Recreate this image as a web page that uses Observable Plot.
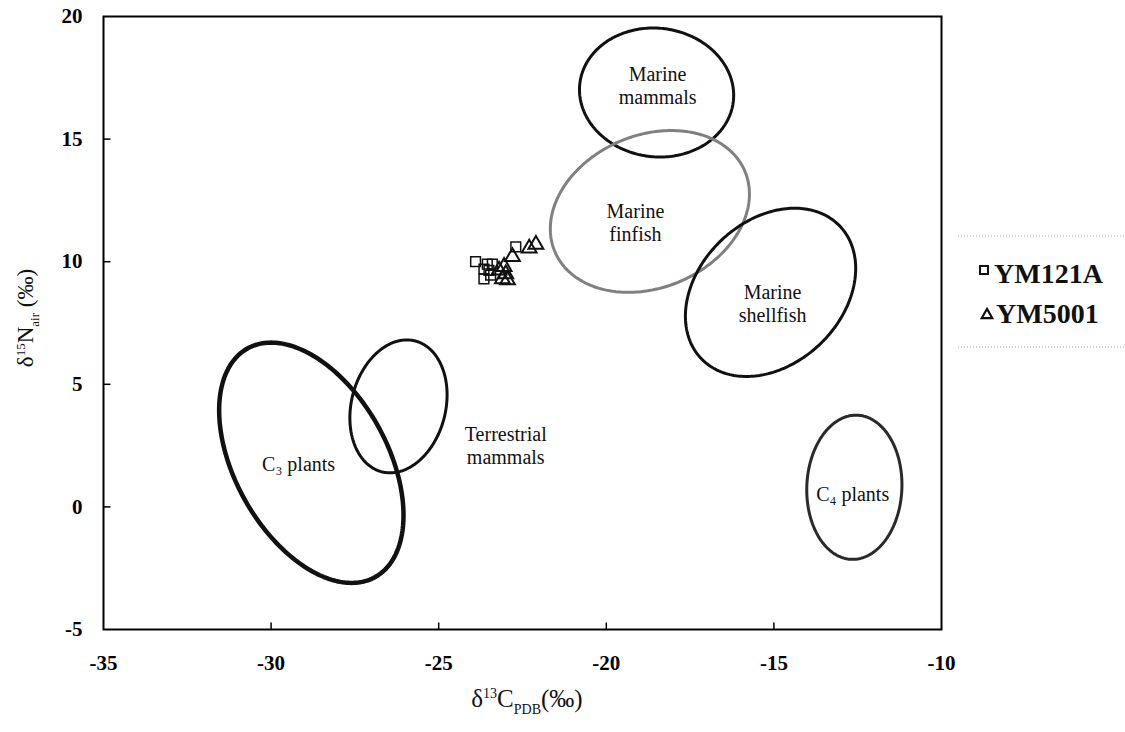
<!DOCTYPE html>
<html><head><meta charset="utf-8">
<script src="https://cdn.jsdelivr.net/npm/d3@7"></script>
<script src="https://cdn.jsdelivr.net/npm/@observablehq/plot@0.6"></script>
<style>
body{margin:0;background:#fff;}
#chart{position:relative;width:1125px;height:732px;background:#fff;}
#chart svg{font-family:"Liberation Serif","Times New Roman",serif;}
</style></head><body><div id="chart"></div>
<script>
// ---- axes ----
const xTicks = [-35, -30, -25, -20, -15, -10];
const yTicks = [-5, 0, 5, 10, 15, 20];
const xDomain = [-35, -10];
const yDomain = [-5, 20];

// ---- samples ----
const ym121aX = [-22.7, -23.9, -23.55, -23.4, -23.65, -23.5, -23.65, -23.45];
const ym121aY = [10.6, 10.0, 9.9, 9.9, 9.7, 9.65, 9.3, 9.45];
const ym5001X = [-22.1, -22.3, -22.8, -23.05, -23.0, -23.1, -22.95, -23.2];
const ym5001Y = [10.7, 10.55, 10.2, 9.8, 9.5, 9.3, 9.25, 9.65];

// ---- reference ellipses (data units) ----
const ellipseNames = ["C3 plants", "Terrestrial mammals", "Marine mammals", "Marine finfish", "Marine shellfish", "C4 plants"];
const ellipseCX = [-28.8, -26.2, -18.5, -18.7, -15.1, -12.6];
const ellipseCY = [1.8, 4.1, 16.9, 12.05, 8.75, 0.8];
const ellipseHalfW = [2.75, 1.45, 2.3, 2.97, 2.54, 1.42];
const ellipseHalfH = [4.9, 2.71, 2.63, 3.3, 3.43, 2.94];
const ellipseTopShift = [-1.2, 0.25, -0.1, 0.64, 0.72, 0.05];

// ---- ellipse labels (data units) ----
const labelText = ["C\u2083 plants", "Terrestrial\nmammals", "Marine\nmammals", "Marine\nfinfish", "Marine\nshellfish", "C\u2084 plants"];
const labelX = [-29.18, -23.0, -18.47, -19.13, -15.04, -12.65];
const labelY = [1.77, 2.5, 17.2, 11.6, 8.3, 0.55];

// ---- legend ----
const seriesNames = ["YM121A", "YM5001"];

// styles
const ellipseStroke = ["#111", "#111", "#111", "#808080", "#111", "#2a2a2a"];
const ellipseWidth = [4.5, 3, 3, 3, 3, 3];

const samples = [
  ...ym121aX.map((x, i) => ({x, y: ym121aY[i], s: seriesNames[0]})),
  ...ym5001X.map((x, i) => ({x, y: ym5001Y[i], s: seriesNames[1]}))
];

function ellipsePoints(i) {
  const T = ellipseTopShift[i];
  const U = Math.sqrt(ellipseHalfW[i] ** 2 - T ** 2);
  return d3.range(0, 241).map(k => {
    const t = k / 240 * 2 * Math.PI;
    return {x: ellipseCX[i] + U * Math.cos(t) + T * Math.sin(t), y: ellipseCY[i] + ellipseHalfH[i] * Math.sin(t)};
  });
}

const labels = labelText.map((t, i) => ({t, x: labelX[i], y: labelY[i]}));

const tickUp = {draw(ctx) { ctx.moveTo(0, 0); ctx.lineTo(0, -7); }};
const tickRight = {draw(ctx) { ctx.moveTo(0, 0); ctx.lineTo(7, 0); }};

const W = 1125, H = 732, mL = 103, mR = 184, mT = 16, mB = 103;

const plot = Plot.plot({
  width: W, height: H,
  marginLeft: mL, marginRight: mR, marginTop: mT, marginBottom: mB,
  x: {domain: xDomain},
  y: {domain: yDomain},
  style: {fontFamily: "Liberation Serif, serif", background: "white", color: "black"},
  marks: [
    ...ellipseNames.map((n, i) => Plot.line(ellipsePoints(i), {x: "x", y: "y", stroke: ellipseStroke[i], strokeWidth: ellipseWidth[i]})),
    Plot.text(labels, {x: "x", y: "y", text: "t", fontSize: 20, lineHeight: 1.15, fill: "#111"}),
    Plot.dot(samples.filter(d => d.s === seriesNames[0]), {x: "x", y: "y", symbol: "square", r: 5.5, stroke: "#111", strokeWidth: 1.5, fill: "none"}),
    Plot.dot(samples.filter(d => d.s === seriesNames[1]), {x: "x", y: "y", symbol: "triangle", r: 5.5, stroke: "#111", strokeWidth: 2, fill: "none"}),
    Plot.dot(xTicks.slice(1, -1), {x: d => d, y: () => yDomain[0], symbol: tickUp, stroke: "black", strokeWidth: 1.5, fill: "none"}),
    Plot.dot(yTicks.slice(1, -1), {x: () => xDomain[0], y: d => d, symbol: tickRight, stroke: "black", strokeWidth: 1.5, fill: "none"}),
    Plot.frame({stroke: "black", strokeWidth: 2}),
    Plot.axisX(xTicks, {tickSize: 0, tickPadding: 26, tickFormat: d => String(d), label: null, fontSize: 21, fontWeight: "bold"}),
    Plot.axisY(yTicks, {tickSize: 0, tickPadding: 21, tickFormat: d => String(d), label: null, fontSize: 21, fontWeight: "bold"})
  ]
});

document.getElementById("chart").appendChild(plot);

const svg = d3.select(plot);
const serif = "Liberation Serif, serif";

// x axis title
const xt = svg.append("text")
  .attr("x", 527).attr("y", 707)
  .attr("text-anchor", "middle").attr("font-family", serif).attr("font-size", 25).attr("fill", "#111");
xt.append("tspan").text("\u03B4");
xt.append("tspan").attr("font-size", 14).attr("dy", -9).text("13");
xt.append("tspan").attr("dy", 9).text("C");
xt.append("tspan").attr("font-size", 14).attr("dy", 7).text("PDB");
xt.append("tspan").attr("dy", -7).text("(\u2030)");

// y axis title
const yt = svg.append("text")
  .attr("transform", "translate(33,318) rotate(-90)")
  .attr("text-anchor", "middle").attr("font-family", serif).attr("font-size", 23).attr("fill", "#111");
yt.append("tspan").text("\u03B4");
yt.append("tspan").attr("font-size", 13).attr("dy", -8).text("15");
yt.append("tspan").attr("dy", 8).text("N");
yt.append("tspan").attr("font-size", 13).attr("dy", 6).text("air");
yt.append("tspan").attr("dy", -6).text(" (\u2030)");

// legend
const lg = svg.append("g").attr("text-anchor", "start");
lg.append("line").attr("x1", 958).attr("x2", 1125).attr("y1", 236).attr("y2", 236)
  .attr("stroke", "#aaa").attr("stroke-dasharray", "1,2");
lg.append("line").attr("x1", 958).attr("x2", 1125).attr("y1", 347).attr("y2", 347)
  .attr("stroke", "#aaa").attr("stroke-dasharray", "1,2");
lg.append("rect").attr("x", 980).attr("y", 266).attr("width", 8).attr("height", 8)
  .attr("fill", "none").attr("stroke", "#111").attr("stroke-width", 2);
lg.append("path").attr("transform", "translate(987,315)")
  .attr("d", d3.symbol(d3.symbolTriangle, 48)())
  .attr("fill", "none").attr("stroke", "#111").attr("stroke-width", 2.2);
lg.append("text").attr("x", 994).attr("y", 283).attr("text-anchor", "start").attr("font-family", serif).attr("font-weight", "bold")
  .attr("font-size", 28).attr("fill", "#111").text(seriesNames[0]);
lg.append("text").attr("x", 996).attr("y", 323).attr("text-anchor", "start").attr("font-family", serif).attr("font-weight", "bold")
  .attr("font-size", 28).attr("fill", "#111").text(seriesNames[1]);
</script></body></html>
